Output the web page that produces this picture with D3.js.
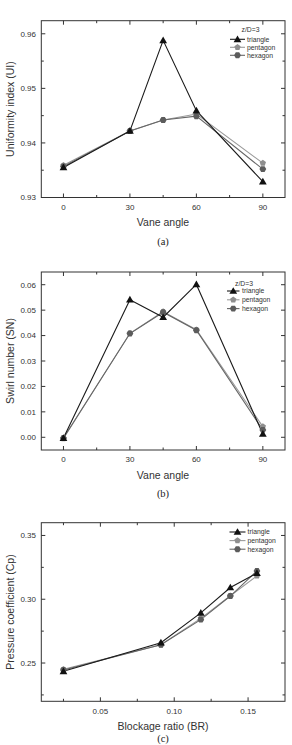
<!DOCTYPE html>
<html><head><meta charset="utf-8">
<script src="https://cdn.jsdelivr.net/npm/d3@7"></script>
<style>html,body{margin:0;padding:0;background:#fff;}svg{display:block;}</style>
</head><body>
<script>
// ---- data ----
const seriesNames = ["triangle", "pentagon", "hexagon"];
const vaneAngles = [0, 30, 45, 60, 90];
const uiTriangle = [0.9355, 0.9422, 0.9588, 0.9459, 0.9329];
const uiPentagon = [0.9359, 0.9422, 0.9442, 0.9453, 0.9363];
const uiHexagon  = [0.9357, 0.9422, 0.9442, 0.9449, 0.9352];
const snTriangle = [-0.0003, 0.0541, 0.0472, 0.0601, 0.0013];
const snPentagon = [-0.0005, 0.0409, 0.0494, 0.0423, 0.0042];
const snHexagon  = [-0.0003, 0.0408, 0.0492, 0.0421, 0.0029];
const blockageRatio = [0.025, 0.091, 0.118, 0.138, 0.156];
const cpTriangle = [0.2435, 0.2659, 0.2893, 0.3092, 0.3204];
const cpPentagon = [0.2451, 0.2643, 0.2850, 0.3027, 0.3183];
const cpHexagon  = [0.2445, 0.2643, 0.2840, 0.3025, 0.3222];
const uiTicks = [0.93, 0.94, 0.95, 0.96];
const snTicks = [0.00, 0.01, 0.02, 0.03, 0.04, 0.05, 0.06];
const cpTicks = [0.25, 0.30, 0.35];
const angleTicks = [0, 30, 60, 90];
const brTicks = [0.05, 0.10, 0.15];

const W = 292, H = 745;
const svg = d3.select("body").append("svg").attr("width", W).attr("height", H);
const FONT = "Liberation Sans, Arial, sans-serif";
const colors = {triangle: "#111111", pentagon: "#8f8f8f", hexagon: "#5c5c5c"};
const lineColors = {triangle: "#1a1a1a", pentagon: "#9a9a9a", hexagon: "#666666"};

function polygonPath(cx, cy, r, n, rot) {
  const pts = d3.range(n).map(i => {
    const a = rot + i * 2 * Math.PI / n;
    return [cx + r * Math.cos(a), cy + r * Math.sin(a)];
  });
  return "M" + pts.map(p => p.join(",")).join("L") + "Z";
}
function marker(g, name, cx, cy) {
  if (name === "triangle") {
    g.append("path").attr("d", d3.symbol().type(d3.symbolTriangle).size(26)())
      .attr("transform", `translate(${cx},${cy + 0.6})`).attr("fill", colors.triangle);
  } else if (name === "pentagon") {
    g.append("path").attr("d", polygonPath(cx, cy, 3.3, 5, -Math.PI / 2)).attr("fill", colors.pentagon);
  } else {
    g.append("path").attr("d", polygonPath(cx, cy, 3.4, 6, 0)).attr("fill", colors.hexagon);
  }
}

function panel(cfg) {
  const g = svg.append("g");
  const x = d3.scaleLinear().domain(cfg.xDomain).range([41.3, 285]);
  const y = d3.scaleLinear().domain(cfg.yDomain).range([cfg.bottom, cfg.top]);
  const [x0, x1] = x.range(), [y0, y1] = y.range();
  // box
  g.append("rect").attr("x", x0).attr("y", y1).attr("width", x1 - x0).attr("height", y0 - y1)
    .attr("fill", "none").attr("stroke", "#333").attr("stroke-width", 1);
  const tk = g.append("g").attr("stroke", "#333").attr("stroke-width", 1);
  const major = 4, minor = 2.5;
  cfg.xTicks.forEach(v => {
    tk.append("line").attr("x1", x(v)).attr("x2", x(v)).attr("y1", y0).attr("y2", y0 - major);
    tk.append("line").attr("x1", x(v)).attr("x2", x(v)).attr("y1", y1).attr("y2", y1 + major);
  });
  cfg.xMinor.forEach(v => {
    tk.append("line").attr("x1", x(v)).attr("x2", x(v)).attr("y1", y0).attr("y2", y0 - minor);
    tk.append("line").attr("x1", x(v)).attr("x2", x(v)).attr("y1", y1).attr("y2", y1 + minor);
  });
  cfg.yTicks.forEach(v => {
    tk.append("line").attr("y1", y(v)).attr("y2", y(v)).attr("x1", x0).attr("x2", x0 + major);
    tk.append("line").attr("y1", y(v)).attr("y2", y(v)).attr("x1", x1).attr("x2", x1 - major);
  });
  cfg.yMinor.forEach(v => {
    tk.append("line").attr("y1", y(v)).attr("y2", y(v)).attr("x1", x0).attr("x2", x0 + minor);
    tk.append("line").attr("y1", y(v)).attr("y2", y(v)).attr("x1", x1).attr("x2", x1 - minor);
  });
  // tick labels
  cfg.xTicks.forEach(v => {
    g.append("text").attr("x", x(v)).attr("y", y0 + 12.3).attr("text-anchor", "middle")
      .attr("font-family", FONT).attr("font-size", 8).attr("fill", "#333").text(cfg.xFmt(v));
  });
  cfg.yTicks.forEach(v => {
    g.append("text").attr("x", 36).attr("y", y(v) + 2.9).attr("text-anchor", "end")
      .attr("font-family", FONT).attr("font-size", 8).attr("fill", "#333").text(cfg.yFmt(v));
  });
  // axis titles
  g.append("text").attr("x", 163).attr("y", cfg.bottom + 28.5).attr("text-anchor", "middle")
    .attr("font-family", FONT).attr("font-size", 10.5).attr("fill", "#333").text(cfg.xTitle);
  g.append("text").attr("transform", `translate(13.8,${(y0 + y1) / 2}) rotate(-90)`)
    .attr("text-anchor", "middle").attr("font-family", FONT).attr("font-size", 10.5)
    .attr("fill", "#333").text(cfg.yTitle);
  g.append("text").attr("x", 163).attr("y", Math.min(cfg.bottom + 47, 741.5)).attr("text-anchor", "middle")
    .attr("font-family", "Liberation Serif, Times New Roman, serif").attr("font-size", 10.5)
    .attr("fill", "#222").text(cfg.caption);
  // lines
  const line = d3.line().x(d => x(d[0])).y(d => y(d[1]));
  const order = ["pentagon", "hexagon", "triangle"];
  order.forEach(name => {
    const vals = cfg.series[name];
    const pts = cfg.xVals.map((v, i) => [v, vals[i]]);
    g.append("path").attr("d", line(pts)).attr("fill", "none")
      .attr("stroke", lineColors[name]).attr("stroke-width", 1.1);
  });
  order.forEach(name => {
    const vals = cfg.series[name];
    cfg.xVals.forEach((v, i) => marker(g, name, x(v), y(vals[i])));
  });
  // legend
  const L = cfg.legend;
  if (L.header) {
    g.append("text").attr("x", L.hx).attr("y", L.hy).attr("font-family", FONT)
      .attr("font-size", 6.8).attr("fill", "#333").text(L.header);
  }
  seriesNames.forEach((name, i) => {
    const ly = L.y0 + i * L.dy;
    g.append("line").attr("x1", L.lx0).attr("x2", L.lx1).attr("y1", ly).attr("y2", ly)
      .attr("stroke", lineColors[name]).attr("stroke-width", 1.1);
    marker(g, name, (L.lx0 + L.lx1) / 2, ly);
    g.append("text").attr("x", L.tx).attr("y", ly + 2.4).attr("font-family", FONT)
      .attr("font-size", 6.8).attr("fill", "#333").text(name);
  });
}

panel({
  xDomain: [-10, 100], yDomain: [0.93, 0.9624], top: 20.7, bottom: 197.5,
  xTicks: angleTicks, xMinor: [15, 45, 75], yTicks: uiTicks, yMinor: [0.935, 0.945, 0.955],
  xFmt: d3.format("d"), yFmt: d3.format(".2f"),
  xTitle: "Vane angle", yTitle: "Uniformity index (UI)", caption: "(a)",
  xVals: vaneAngles,
  series: {triangle: uiTriangle, pentagon: uiPentagon, hexagon: uiHexagon},
  legend: {header: "z/D=3", hx: 241.5, hy: 31.5, y0: 39.3, dy: 8, lx0: 230, lx1: 245, tx: 247}
});
panel({
  xDomain: [-10, 100], yDomain: [-0.005, 0.065], top: 272, bottom: 450,
  xTicks: angleTicks, xMinor: [15, 45, 75], yTicks: snTicks, yMinor: [],
  xFmt: d3.format("d"), yFmt: d3.format(".2f"),
  xTitle: "Vane angle", yTitle: "Swirl number (SN)", caption: "(b)",
  xVals: vaneAngles,
  series: {triangle: snTriangle, pentagon: snPentagon, hexagon: snHexagon},
  legend: {header: "z/D=3", hx: 235, hy: 285.5, y0: 291, dy: 8.8, lx0: 227, lx1: 239.5, tx: 242}
});
panel({
  xDomain: [0.01, 0.175], yDomain: [0.22, 0.36], top: 522.7, bottom: 701.3,
  xTicks: brTicks, xMinor: [0.025, 0.075, 0.125], yTicks: cpTicks, yMinor: [0.225, 0.275, 0.325],
  xFmt: d3.format(".2f"), yFmt: d3.format(".2f"),
  xTitle: "Blockage ratio (BR)", yTitle: "Pressure coefficient (Cp)", caption: "(c)",
  xVals: blockageRatio,
  series: {triangle: cpTriangle, pentagon: cpPentagon, hexagon: cpHexagon},
  legend: {header: null, y0: 532, dy: 8.6, lx0: 229.5, lx1: 245.5, tx: 247.5}
});
</script>
</body></html>
